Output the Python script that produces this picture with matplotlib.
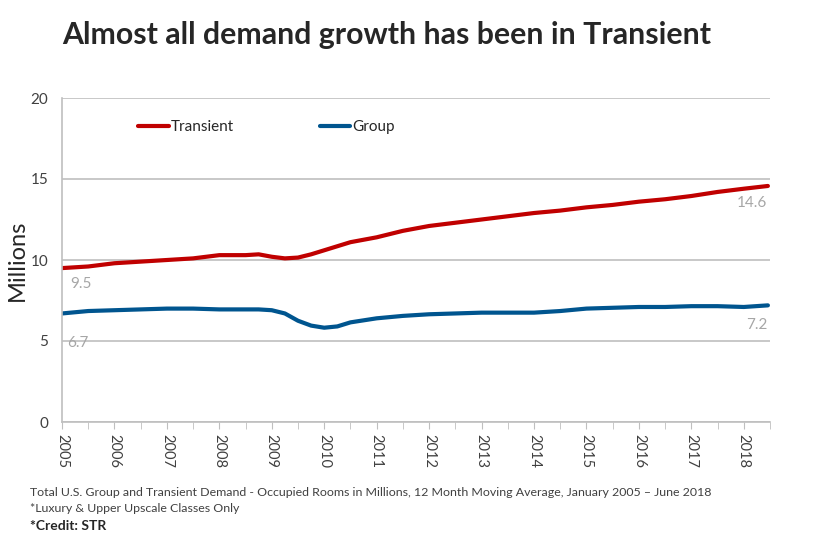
import matplotlib.pyplot as plt

# time in decimal years (Jan 2005 .. Jun 2018)
t = [2005.0, 2005.5, 2006.0, 2006.5, 2007.0, 2007.5, 2008.0, 2008.5, 2008.75,
     2009.0, 2009.25, 2009.5, 2009.75, 2010.0, 2010.25, 2010.5, 2011.0, 2011.5,
     2012.0, 2012.5, 2013.0, 2013.5, 2014.0, 2014.5, 2015.0, 2015.5, 2016.0,
     2016.5, 2017.0, 2017.5, 2018.0, 2018.46]

transient = [9.5, 9.6, 9.8, 9.9, 10.0, 10.1, 10.3, 10.3, 10.35,
             10.2, 10.1, 10.15, 10.35, 10.6, 10.85, 11.1, 11.4, 11.8,
             12.1, 12.3, 12.5, 12.7, 12.9, 13.05, 13.25, 13.4, 13.6,
             13.75, 13.95, 14.2, 14.4, 14.57]

group = [6.7, 6.85, 6.9, 6.95, 7.0, 7.0, 6.95, 6.95, 6.95,
         6.9, 6.7, 6.25, 5.95, 5.82, 5.9, 6.15, 6.4, 6.55,
         6.65, 6.7, 6.75, 6.75, 6.75, 6.85, 7.0, 7.05, 7.1,
         7.1, 7.15, 7.15, 7.1, 7.2]

years = list(range(2005, 2019))

red = '#C00000'
blue = '#00558F'
grid_c = '#BFBFBF'
lab_c = '#A6A6A6'

plt.rcParams['font.family'] = ['Lato', 'DejaVu Sans']

fig = plt.figure(figsize=(8.4, 5.54), dpi=100)
ax = fig.add_axes([62/840, 132/554, 708/840, 324/554])

ax.plot(t, transient, color=red, lw=3, label='Transient', solid_capstyle='round')
ax.plot(t, group, color=blue, lw=3, label='Group', solid_capstyle='round')

ax.set_xlim(2005, 2018.48)
ax.set_ylim(0, 20)
ax.set_yticks([0, 5, 10, 15, 20])
ax.set_xticks(years)
ax.set_xticks([y + 0.5 for y in years], minor=True)
ax.set_xticklabels([str(y) for y in years], rotation=-90, fontsize=10.5, color='#404040')
ax.tick_params(axis='x', which='both', direction='out', length=5, color=grid_c)
ax.tick_params(axis='y', length=0, labelsize=11, colors='#404040', pad=10)
ax.yaxis.grid(True, color=grid_c, lw=1.2)
ax.set_axisbelow(True)
for s in ['top', 'right']:
    ax.spines[s].set_visible(False)
ax.spines['left'].set_color(grid_c)
ax.spines['bottom'].set_color(grid_c)
ax.spines['left'].set_linewidth(1.2)
ax.spines['bottom'].set_linewidth(1.2)

ax.set_ylabel('Millions', fontsize=17, color='#262626', labelpad=2)

ax.legend(loc='upper left', bbox_to_anchor=(0.088, 0.975), ncol=2, frameon=False,
          fontsize=11, handlelength=2.0, handletextpad=0.15, columnspacing=5.6,
          labelcolor='#262626')

ax.text(2005.15, 8.5, '9.5', fontsize=11, color=lab_c, va='center')
ax.text(2005.1, 4.9, '6.7', fontsize=11, color=lab_c, va='center')
ax.text(2018.45, 13.5, '14.6', fontsize=11, color=lab_c, va='center', ha='right')
ax.text(2018.45, 6.0, '7.2', fontsize=11, color=lab_c, va='center', ha='right')

fig.text(62/840, 1 - 35/554, 'Almost all demand growth has been in Transient',
         fontsize=21.8, fontweight='bold', color='#262626', va='center')
fig.text(30/840, 1 - 492/554,
         'Total U.S. Group and Transient Demand - Occupied Rooms in Millions, '
         '12 Month Moving Average, January 2005 \u2013 June 2018',
         fontsize=8.9, color='#404040', va='center')
fig.text(30/840, 1 - 508/554, '*Luxury & Upper Upscale Classes Only',
         fontsize=8.9, color='#404040', va='center')
fig.text(30/840, 1 - 526/554, '*Credit: STR',
         fontsize=10, fontweight='bold', color='#262626', va='center')

fig.savefig('out.png', dpi=100)
